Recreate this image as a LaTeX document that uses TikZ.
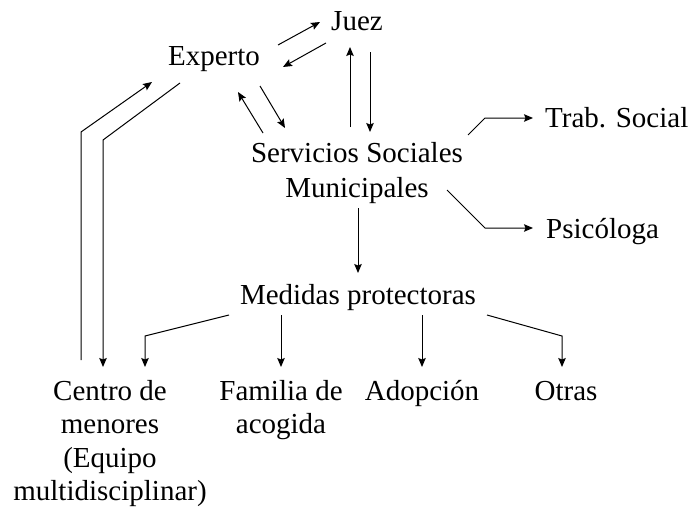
\documentclass[tikz,border=0pt]{standalone}
\usepackage{fontspec}
\setmainfont{Liberation Serif}
\usetikzlibrary{arrows.meta,calc}
\begin{document}
\begin{tikzpicture}[x=1pt,y=-1pt,
  lbl/.style={inner sep=0pt, anchor=base, align=center, font=\fontsize{29}{35}\selectfont},
  lblc/.style={inner sep=0pt, anchor=base, align=center, font=\fontsize{29}{33.5}\selectfont},
  arr/.style={line width=1pt, -{Stealth[length=9pt,width=7.5pt,inset=1.5pt]}},
  ln/.style={line width=1pt}]
\useasboundingbox (0,0) rectangle (688,506);
% nodes (multi-line nodes: base = baseline of the last line)
\node[lbl] (juez) at (357,30) {Juez};
\node[lbl] (exp) at (214,65) {Experto};
\node[lbl] (ss) at (357,197) {Servicios Sociales\\Municipales};
\node[lbl, anchor=base west] (trab) at (545,127) {Trab. Social};
\node[lbl, anchor=base west] (psic) at (546,238) {Psicóloga};
\node[lbl] (med) at (358,304) {Medidas protectoras};
\node[lblc] (centro) at (110,500.5) {Centro de\\menores\\(Equipo\\multidisciplinar)};
\node[lblc] (fam) at (281,433.5) {Familia de\\acogida};
\node[lbl] (adop) at (422,400) {Adopción};
\node[lbl] (otras) at (566,400) {Otras};
% connectors
\draw[arr] ($(exp.base)+(64,-20)$) -- ($(juez.base)+(-37,-8)$);
\draw[arr] ($(juez.base)+(-31,13)$) -- ($(exp.base)+(69,2)$);
\draw[arr] ($(ss.base)+(-94,-64)$) -- ($(exp.base)+(24,27)$);
\draw[arr] ($(exp.base)+(46,21)$) -- ($(ss.base)+(-72,-69)$);
\draw[arr] ($(ss.base)+(-7,-70)$) -- ($(juez.base)+(-7,17)$);
\draw[arr] ($(juez.base)+(13,22)$) -- ($(ss.base)+(13,-65)$);
\draw[arr] ($(ss.base)+(111,-62)$) -- ($(trab.base west)+(-60,-9)$) -- ($(trab.base west)+(-12,-9)$);
\draw[arr] ($(ss.base)+(90,-7)$) -- ($(psic.base west)+(-61,-10)$) -- ($(psic.base west)+(-13,-10)$);
\draw[arr] ($(ss.base)+(1,11)$) -- ($(med.base)+(0,-31)$);
\draw[arr] ($(med.base)+(-129,11)$) -- ($(centro.base)+(35,-164.5)$) -- ($(centro.base)+(35,-133.5)$);
\draw[arr] ($(med.base)+(-77,11)$) -- ($(fam.base)+(0,-66.5)$);
\draw[arr] ($(med.base)+(64,11)$) -- ($(adop.base)+(0,-33)$);
\draw[arr] ($(med.base)+(129,11)$) -- ($(otras.base)+(-4,-64)$) -- ($(otras.base)+(-4,-33)$);
\draw[arr] ($(centro.base)+(-29,-140.5)$) -- ($(exp.base)+(-133,67)$) -- ($(exp.base)+(-62,17)$);
\draw[arr] ($(exp.base)+(-34,18)$) -- ($(exp.base)+(-111,75)$) -- ($(centro.base)+(-7,-133.5)$);
\end{tikzpicture}
\end{document}
